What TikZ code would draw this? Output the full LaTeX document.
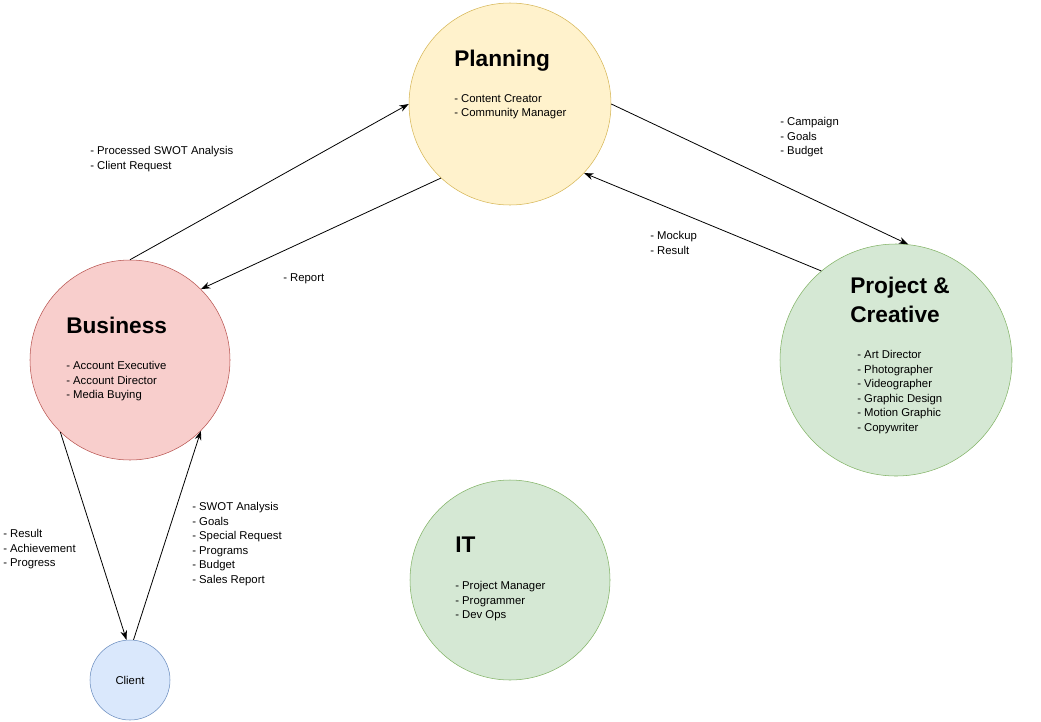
\documentclass[tikz,border=0pt]{standalone}
\usepackage{fontspec}
\setmainfont{Liberation Sans}
\usetikzlibrary{arrows.meta}
\definecolor{yf}{HTML}{FFF2CC}\definecolor{yd}{HTML}{D6B656}
\definecolor{rf}{HTML}{F8CECC}\definecolor{rd}{HTML}{B85450}
\definecolor{gf}{HTML}{D5E8D4}\definecolor{gd}{HTML}{82B366}
\definecolor{bf}{HTML}{DAE8FC}\definecolor{bd}{HTML}{6C8EBF}
\tikzset{
 circ/.style={circle,inner sep=0pt,minimum size=#1*0.75pt},
 lbl/.style={anchor=north west,align=left,inner sep=0pt,font=\fontsize{8.5}{10.9}\selectfont},
 ttl/.style={anchor=north west,align=left,inner sep=0pt,font=\fontsize{17}{21.5}\selectfont\bfseries},
 arr/.style={-{Stealth[length=7pt,width=5pt]},line width=0.6pt}
}
\begin{document}
\begin{tikzpicture}[x=0.75pt,y=-0.75pt]
\useasboundingbox (0,0) rectangle (1041,721);
\node[circ=202,fill=yf,draw=yd] (pl) at (510,104) {};
\node[circ=200,fill=rf,draw=rd] (bus) at (130,360) {};
\node[circ=232,fill=gf,draw=gd] (pc) at (896,360) {};
\node[circ=200,fill=gf,draw=gd] (it) at (510,580) {};
\node[circ=80,fill=bf,draw=bd] (cl) at (130,680) {};
\node[font=\fontsize{8.5}{10}\selectfont] (clt) at (130,680) {Client};

\node[ttl] (plt) at (454,50) {Planning};
\node[lbl] (pll) at (454,94) {- Content Creator\\- Community Manager};
\node[ttl] (bust) at (66,317) {Business};
\node[lbl] (busl) at (66,361) {- Account Executive\\- Account Director\\- Media Buying};
\node[ttl] (pct) at (850,277) {Project \&\\Creative};
\node[lbl] (pcl) at (857,350) {- Art Director\\- Photographer\\- Videographer\\- Graphic Design\\- Motion Graphic\\- Copywriter};
\node[ttl] (itt) at (455,537) {IT};
\node[lbl] (itl) at (455,581) {- Project Manager\\- Programmer\\- Dev Ops};

\node[lbl] (l1) at (90,146) {- Processed SWOT Analysis\\- Client Request};
\node[lbl] (l2) at (283,273) {- Report};
\node[lbl] (l3) at (780,117) {- Campaign\\- Goals\\- Budget};
\node[lbl] (l4) at (650,231) {- Mockup\\- Result};
\node[lbl] (l5) at (3,529) {- Result\\- Achievement\\- Progress};
\node[lbl] (l6) at (192,502) {- SWOT Analysis\\- Goals\\- Special Request\\- Programs\\- Budget\\- Sales Report};

\draw[arr] (bus.north) -- (pl.west);
\draw[arr] (pl.-133) -- (bus.45);
\draw[arr] (pl.east) -- (pc.84);
\draw[arr] (pc.130) -- (pl.-43);
\draw[arr] (bus.-134) -- (cl.95);
\draw[arr] (cl.85) -- (bus.-45);
\end{tikzpicture}
\end{document}
